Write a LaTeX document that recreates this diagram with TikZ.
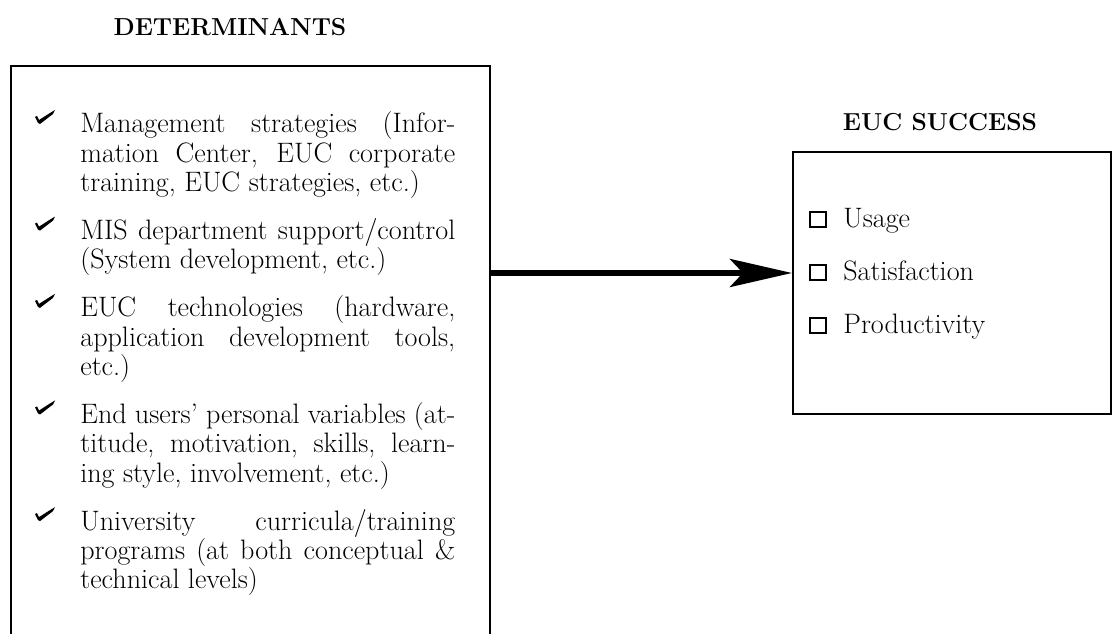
\documentclass[tikz,border=0pt]{standalone}
\usetikzlibrary{arrows.meta}
\newcommand\jl[1]{\makebox[7.5cm][s]{#1}}
\begin{document}
\begin{tikzpicture}[x=0.02cm,y=-0.02cm,
  boxst/.style={draw, line width=1.2pt, inner sep=0pt},
  head/.style={font=\fontsize{14}{17}\selectfont\bfseries, inner sep=0pt},
  txt/.style={font=\fontsize{16}{19}\selectfont, inner sep=0pt, anchor=base west},
  cbox/.style={draw, line width=0.8pt},
  arr/.style={line width=3.4pt, -{Stealth[length=1.24cm,width=0.56cm,inset=0.26cm]}},
  tk/.pic={\fill (0,0) -- (-3,-6) -- (-1,-7) -- (1,-3) -- (12,-10) -- (17,-13) -- (15,-9) -- (2,1) -- cycle;}
]
\useasboundingbox (0,0) rectangle (1115,634);

% headings
\node[head] (dhead) at (230,27) {DETERMINANTS};
\node[head] (shead) at (940,122) {EUC SUCCESS};

% boxes
\node[boxst, anchor=north west, minimum width=9.58cm, minimum height=12cm] (detbox) at (10,65) {};
\node[boxst, anchor=north west, minimum width=6.36cm, minimum height=5.24cm] (sucbox) at (792,151) {};

% determinants
\pic at (38,123) {tk};
\node[txt] (l1a) at (80,133) {\jl{Management strategies (Infor-}};
\node[txt] (l1b) at (80,162.3) {\jl{mation Center, EUC corporate}};
\node[txt] (l1c) at (80,191.6) {training, EUC strategies, etc.)};

\pic at (38,229.6) {tk};
\node[txt] (l2a) at (80,239.6) {\jl{MIS department support/control}};
\node[txt] (l2b) at (80,268.9) {(System development, etc.)};

\pic at (38,306.9) {tk};
\node[txt] (l3a) at (80,316.9) {\jl{EUC technologies (hardware,}};
\node[txt] (l3b) at (80,346.2) {\jl{application development tools,}};
\node[txt] (l3c) at (80,375.5) {etc.)};

\pic at (38,413.5) {tk};
\node[txt] (l4a) at (80,423.5) {\jl{End users' personal variables (at-}};
\node[txt] (l4b) at (80,452.8) {\jl{titude, motivation, skills, learn-}};
\node[txt] (l4c) at (80,482.1) {ing style, involvement, etc.)};

\pic at (38,520.1) {tk};
\node[txt] (l5a) at (80,530.1) {\jl{University curricula/training}};
\node[txt] (l5b) at (80,559.4) {\jl{programs (at both conceptual \&}};
\node[txt] (l5c) at (80,588.7) {technical levels)};

% success items
\draw[cbox] (810,212) rectangle (826,227);
\node[txt] (s1) at (843,228) {Usage};
\draw[cbox] (810,265) rectangle (826,280);
\node[txt] (s2) at (843,281) {Satisfaction};
\draw[cbox] (810,318) rectangle (826,333);
\node[txt] (s3) at (843,334) {Productivity};

% arrow
\coordinate (ay) at (0,273);
\draw[arr] (detbox.east |- ay) -- (sucbox.west |- ay);
\end{tikzpicture}
\end{document}
